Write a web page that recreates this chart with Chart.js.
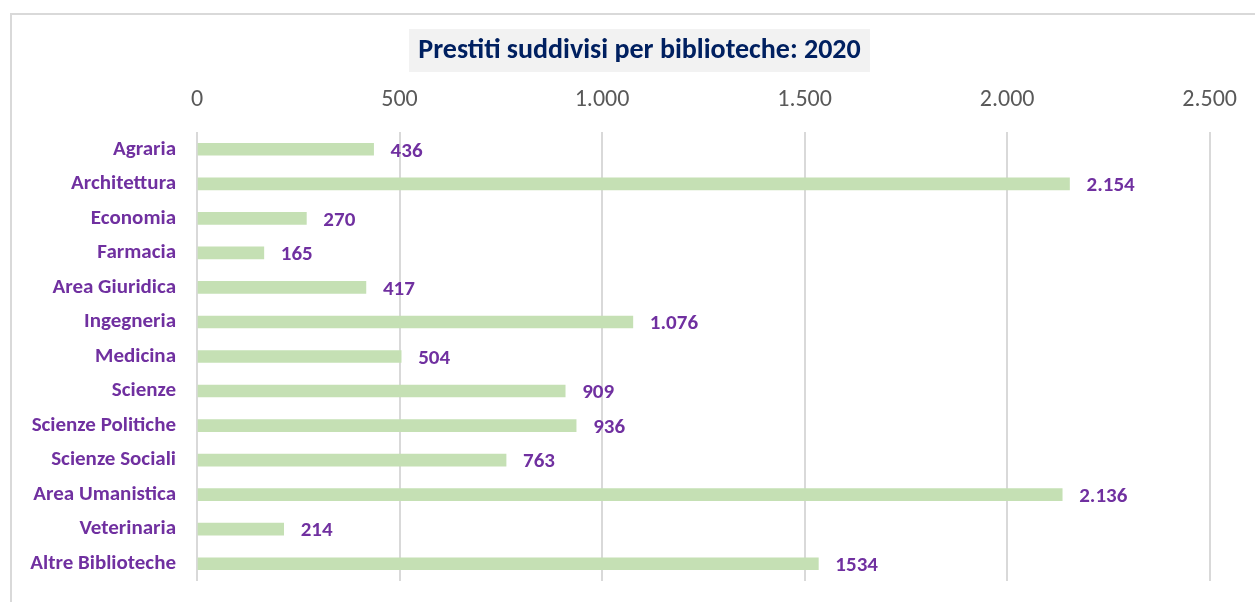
<!DOCTYPE html>
<html>
<head>
<meta charset="utf-8">
<script src="https://cdn.jsdelivr.net/npm/chart.js@4"></script>
<style>
  html, body { margin: 0; padding: 0; background: #fff; overflow: hidden; }
  canvas { display: block; }
</style>
</head>
<body>
<canvas id="chart" width="1255" height="602"></canvas>
<script>
const biblioteche = ["Agraria", "Architettura", "Economia", "Farmacia", "Area Giuridica", "Ingegneria",
  "Medicina", "Scienze", "Scienze Politiche", "Scienze Sociali", "Area Umanistica", "Veterinaria", "Altre Biblioteche"]
const prestiti = [436, 2154, 270, 165, 417, 1076, 504, 909, 936, 763, 2136, 214, 1534]
const etichette = ["436", "2.154", "270", "165", "417", "1.076", "504", "909", "936", "763", "2.136", "214", "1534"]
const titolo = "Prestiti suddivisi per biblioteche: 2020"
const tickMax = 2500
const tickStep = 500

const FONT = "Carlito, Lato, 'Open Sans', sans-serif"

function formatIt(v){
    return String(v).replace(/\B(?=(\d{3})+(?!\d))/g, ".")
}

// gray frame, title box and title text
const frame = {
    id: "frame",
    beforeDraw(chart){
        const ctx = chart.ctx
        ctx.save()
        ctx.strokeStyle = "#d9d9d9"
        ctx.lineWidth = 2
        ctx.strokeRect(11, 14, 1262, 600)
        ctx.fillStyle = "#f2f2f2"
        ctx.fillRect(409, 29, 461, 43)
        ctx.font = "bold 28px " + FONT
        ctx.fillStyle = "#002060"
        ctx.textAlign = "center"
        ctx.textBaseline = "middle"
        ctx.fillText(titolo, 639.5, 51)
        ctx.restore()
    }
}

// value labels to the right of the bars
const valueLabels = {
    id: "valueLabels",
    afterDatasetsDraw(chart){
        const ctx = chart.ctx
        const meta = chart.getDatasetMeta(0)
        ctx.save()
        ctx.font = "bold 21px " + FONT
        ctx.fillStyle = "#7030a0"
        ctx.textAlign = "left"
        ctx.textBaseline = "middle"
        meta.data.forEach((bar, i) => {
            ctx.fillText(etichette[i], bar.x + 17, bar.y + 2)
        })
        ctx.restore()
    }
}

const ctx = document.getElementById("chart")
new Chart(ctx, {
    type: "bar",
    data: {
        labels: biblioteche,
        datasets: [{
            data: prestiti,
            backgroundColor: "#c5e0b4",
            barThickness: 12
        }]
    },
    options: {
        indexAxis: "y",
        responsive: false,
        animation: false,
        layout: { padding: { top: 73, right: 44, bottom: 21, left: 0 } },
        plugins: {
            legend: { display: false },
            tooltip: { enabled: false },
            title: { display: false }
        },
        scales: {
            x: {
                position: "top",
                min: 0,
                max: tickMax,
                ticks: {
                    stepSize: tickStep,
                    color: "#595959",
                    font: { family: FONT, size: 24 },
                    padding: 18,
                    callback: v => formatIt(v)
                },
                grid: { color: "#d9d9d9", lineWidth: 2, drawTicks: false },
                border: { display: false },
                afterFit(scale){ scale.height = 59 }
            },
            y: {
                ticks: {
                    color: "#7030a0",
                    font: { family: FONT, size: 21, weight: "bold" },
                    padding: 21
                },
                grid: { display: false, drawTicks: false },
                border: { display: false },
                afterFit(scale){
                    scale.width = 197
                    scale.paddingTop = 0
                    scale.paddingBottom = 0
                }
            }
        }
    },
    plugins: [frame, valueLabels]
})
</script>
</body>
</html>
